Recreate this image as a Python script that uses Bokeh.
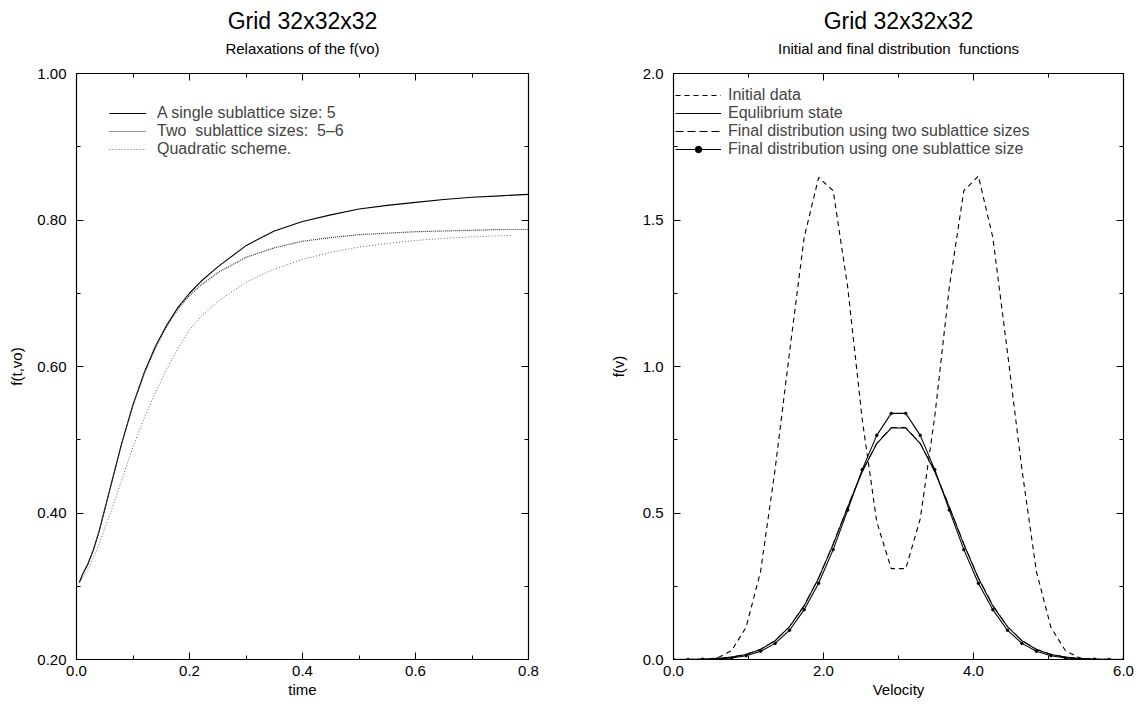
from bokeh.plotting import figure
from bokeh.models import (LinearAxis, FixedTicker, NumeralTickFormatter, Title,
                          Legend, LegendItem, Range1d, CustomJSTickFormatter)
from bokeh.layouts import row
from bokeh.embed import file_html
from bokeh.resources import INLINE

FONT = "Liberation Sans"
NBSP = "\u00a0"

# ---- relaxation of f(vo) over time ----
t_single = [0.005, 0.01, 0.02, 0.03, 0.04, 0.05, 0.06, 0.07, 0.08, 0.10, 0.12,
            0.14, 0.16, 0.18, 0.20, 0.22, 0.25, 0.30, 0.35, 0.40, 0.45, 0.50,
            0.55, 0.60, 0.65, 0.70, 0.75, 0.80]
f_single = [0.305, 0.315, 0.330, 0.350, 0.375, 0.405, 0.435, 0.465, 0.495, 0.548,
            0.592, 0.628, 0.657, 0.681, 0.700, 0.716, 0.736, 0.765, 0.785, 0.798,
            0.807, 0.815, 0.820, 0.824, 0.828, 0.831, 0.833, 0.835]

t_two = [0.005, 0.01, 0.02, 0.03, 0.04, 0.05, 0.06, 0.07, 0.08, 0.10, 0.12,
         0.14, 0.16, 0.18, 0.20, 0.22, 0.25, 0.30, 0.35, 0.40, 0.45, 0.50,
         0.55, 0.60, 0.65, 0.70, 0.75, 0.80]
f_two = [0.305, 0.315, 0.330, 0.350, 0.375, 0.405, 0.435, 0.465, 0.495, 0.547,
         0.590, 0.626, 0.655, 0.679, 0.697, 0.711, 0.728, 0.749, 0.762, 0.771,
         0.776, 0.780, 0.782, 0.784, 0.785, 0.786, 0.787, 0.787]

t_quad = [0.005, 0.02, 0.04, 0.06, 0.08, 0.10, 0.12, 0.14, 0.16, 0.18, 0.20,
          0.22, 0.25, 0.30, 0.35, 0.40, 0.45, 0.50, 0.55, 0.60, 0.65, 0.70, 0.77]
f_quad = [0.305, 0.322, 0.358, 0.400, 0.445, 0.490, 0.530, 0.565, 0.597, 0.625,
          0.650, 0.668, 0.689, 0.715, 0.733, 0.746, 0.756, 0.763, 0.768, 0.772,
          0.775, 0.777, 0.779]

# ---- distribution functions on the velocity grid ----
velocity = [0.000, 0.194, 0.387, 0.581, 0.774, 0.968, 1.161, 1.355, 1.548, 1.742,
            1.935, 2.129, 2.323, 2.516, 2.710, 2.903, 3.097, 3.290, 3.484, 3.677,
            3.871, 4.065, 4.258, 4.452, 4.645, 4.839, 5.032, 5.226, 5.419, 5.613,
            5.806, 6.000]
f_initial = [0.0, 0.0, 0.0, 0.005, 0.03, 0.11, 0.30, 0.65, 1.05, 1.44, 1.645, 1.60,
             1.27, 0.82, 0.47, 0.31, 0.31, 0.48, 0.83, 1.27, 1.60, 1.65, 1.44, 1.05,
             0.65, 0.30, 0.11, 0.03, 0.005, 0.0, 0.0, 0.0]
f_equilibrium = [0.0002, 0.0005, 0.001, 0.003, 0.008, 0.017, 0.034, 0.064, 0.112,
                 0.183, 0.277, 0.393, 0.520, 0.641, 0.737, 0.790, 0.790, 0.737,
                 0.641, 0.520, 0.393, 0.277, 0.183, 0.112, 0.064, 0.034, 0.017,
                 0.008, 0.003, 0.001, 0.0005, 0.0002]
f_final_two = [0.0002, 0.0005, 0.001, 0.003, 0.008, 0.018, 0.035, 0.065, 0.113,
               0.185, 0.279, 0.395, 0.522, 0.643, 0.738, 0.792, 0.792, 0.738,
               0.643, 0.522, 0.395, 0.279, 0.185, 0.113, 0.065, 0.035, 0.018,
               0.008, 0.003, 0.001, 0.0005, 0.0002]
f_final_one = [0.0, 0.0, 0.001, 0.002, 0.005, 0.013, 0.028, 0.055, 0.100, 0.170,
               0.260, 0.375, 0.510, 0.648, 0.765, 0.840, 0.840, 0.765, 0.648,
               0.510, 0.375, 0.260, 0.170, 0.100, 0.055, 0.028, 0.013, 0.005,
               0.002, 0.001, 0.0, 0.0]

HEADING = "Grid 32x32x32"


def framed_figure(width, border_left, border_right, x_range, y_range,
                  x_major, x_minor, y_major, y_minor, x_fmt, y_fmt,
                  x_label, y_label, heading, subtitle, y_label_standoff):
    p = figure(width=width, height=704, x_range=Range1d(*x_range),
               y_range=Range1d(*y_range), x_axis_type=None, y_axis_type=None,
               output_backend="svg", toolbar_location=None,
               min_border_left=border_left, min_border_right=border_right,
               min_border_top=73, min_border_bottom=45, title=None)
    p.grid.visible = False
    p.outline_line_color = "black"
    p.outline_line_width = 1.2
    p.background_fill_color = "white"
    p.border_fill_color = "white"

    xt = FixedTicker(ticks=x_major, minor_ticks=x_minor)
    yt = FixedTicker(ticks=y_major, minor_ticks=y_minor)

    for loc in ("below", "left", "above", "right"):
        horizontal = loc in ("below", "above")
        if loc in ("above", "right"):
            # mirrored ticks only, no tick labels
            fmt = CustomJSTickFormatter(code="return ''")
        else:
            fmt = NumeralTickFormatter(format=x_fmt if horizontal else y_fmt)
        ax = LinearAxis(ticker=xt if horizontal else yt, formatter=fmt)
        ax.major_tick_in = 7
        ax.major_tick_out = 0
        ax.minor_tick_in = 4
        ax.minor_tick_out = 0
        ax.major_tick_line_color = "black"
        ax.minor_tick_line_color = "black"
        ax.axis_line_color = "black"
        ax.major_label_text_font = FONT
        ax.major_label_text_font_size = "15px"
        ax.major_label_text_color = "black"
        ax.axis_label_text_font = FONT
        ax.axis_label_text_font_size = "15px"
        ax.axis_label_text_font_style = "normal"
        ax.axis_label_text_color = "black"
        if loc == "right":
            ax.major_label_standoff = 0
        if loc == "above":
            # the subtitle sits on the top axis
            ax.major_label_standoff = 0
            ax.axis_label = subtitle
            ax.axis_label_standoff = 17
        if loc == "below":
            ax.axis_label = x_label
            ax.major_label_standoff = 6
            ax.axis_label_standoff = 2
        if loc == "left":
            ax.axis_label = y_label
            ax.major_label_standoff = 10
            ax.axis_label_standoff = y_label_standoff
        p.add_layout(ax, loc)

    p.add_layout(Title(text=heading, align="center", text_font=FONT,
                       text_font_size="23px", text_font_style="normal",
                       text_color="black", standoff=6), "above")
    return p


# left panel
left = framed_figure(570, 76, 42, (0.0, 0.8), (0.2, 1.0),
                     [0.0, 0.2, 0.4, 0.6, 0.8], [0.1, 0.3, 0.5, 0.7],
                     [0.2, 0.4, 0.6, 0.8, 1.0], [0.3, 0.5, 0.7, 0.9],
                     "0.0", "0.00", "time", "f(t,vo)", HEADING,
                     "Relaxations of the f(vo)", 9)

r_single = left.line(t_single, f_single, line_color="black", line_width=1.1)
r_two = left.line(t_two, f_two, line_color="#333333", line_width=1.2,
                  line_dash="1 1")
r_quad = left.line(t_quad, f_quad, line_color="#666666", line_width=1.0,
                   line_dash="1 2")

# legend location is its bottom-left corner, measured from the frame's bottom-left
leg_left = Legend(items=[
    LegendItem(label="A single sublattice size: 5", renderers=[r_single]),
    LegendItem(label="Two" + NBSP + " sublattice sizes:" + NBSP + " 5\u20136",
               renderers=[r_two]),
    LegendItem(label="Quadratic scheme.", renderers=[r_quad]),
], location=(33, 501), padding=0, margin=0, spacing=0, glyph_width=37,
    glyph_height=16, label_height=16, label_standoff=11,
    label_text_font=FONT, label_text_font_size="16px",
    label_text_line_height=1.0,
    border_line_alpha=0, background_fill_alpha=0)
left.add_layout(leg_left)

# right panel
right = framed_figure(569, 103, 16, (0.0, 6.0), (0.0, 2.0),
                      [0.0, 2.0, 4.0, 6.0], [1.0, 3.0, 5.0],
                      [0.0, 0.5, 1.0, 1.5, 2.0], [0.25, 0.75, 1.25, 1.75],
                      "0.0", "0.0", "Velocity", "f(v)", HEADING,
                      "Initial and final distribution" + NBSP + " functions", 13)

r_init = right.line(velocity, f_initial, line_color="black", line_width=1.1,
                    line_dash="5 4")
r_eq = right.line(velocity, f_equilibrium, line_color="black", line_width=1.1)
r_fin2 = right.line(velocity, f_final_two, line_color="black", line_width=1.0,
                    line_dash="8 4")
r_fin1 = right.line(velocity, f_final_one, line_color="black", line_width=1.1)
r_fin1_pts = right.scatter(velocity, f_final_one, size=2.5, color="black")

leg_right = Legend(items=[
    LegendItem(label="Initial data", renderers=[r_init]),
    LegendItem(label="Equlibrium state", renderers=[r_eq]),
    LegendItem(label="Final distribution using two sublattice sizes", renderers=[r_fin2]),
    LegendItem(label="Final distribution using one sublattice size",
               renderers=[r_fin1, r_fin1_pts]),
], location=(2, 501), padding=0, margin=0, spacing=0, glyph_width=46,
    glyph_height=16, label_height=16, label_standoff=7,
    label_text_font=FONT, label_text_font_size="16px",
    label_text_line_height=1.0,
    border_line_alpha=0, background_fill_alpha=0)
right.add_layout(leg_right)

layout = row(left, right, spacing=0)

with open("out.html", "w") as fh:
    fh.write(file_html(layout, INLINE))
